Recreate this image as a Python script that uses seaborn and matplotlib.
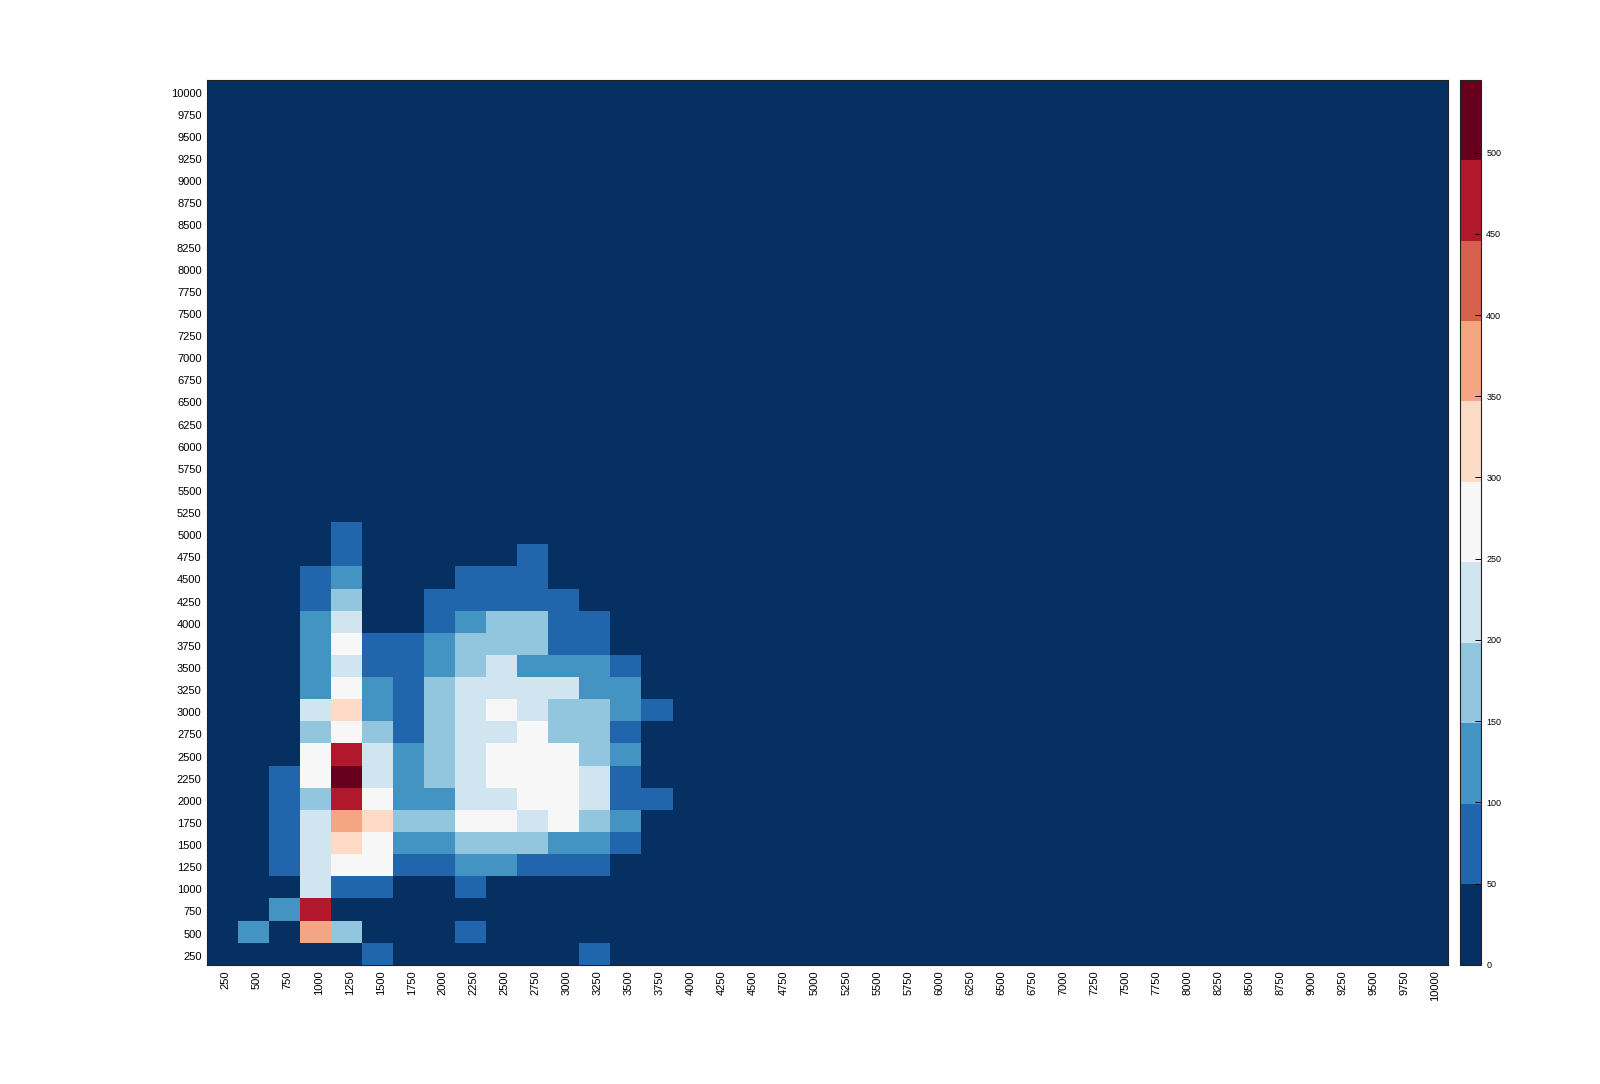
import numpy as np
import pandas as pd
import matplotlib
matplotlib.use("Agg")
import matplotlib.pyplot as plt
import matplotlib.transforms as mtransforms
import seaborn as sns

# Bin labels (both axes)
bins = list(range(250, 10001, 250))

# Counts for the populated lower-left corner: columns 250..3750, rows by y-bin.
# Everything not listed is zero.
rows = {
    5000: [0, 0, 0, 0, 75, 0, 0, 0, 0, 0, 0, 0, 0, 0, 0],
    4750: [0, 0, 0, 0, 75, 0, 0, 0, 0, 0, 75, 0, 0, 0, 0],
    4500: [0, 0, 0, 75, 125, 0, 0, 0, 75, 75, 75, 0, 0, 0, 0],
    4250: [0, 0, 0, 75, 170, 0, 0, 75, 75, 75, 75, 75, 0, 0, 0],
    4000: [0, 0, 0, 125, 220, 0, 0, 75, 125, 170, 170, 75, 75, 0, 0],
    3750: [0, 0, 0, 125, 270, 75, 75, 125, 170, 170, 170, 75, 75, 0, 0],
    3500: [0, 0, 0, 125, 220, 75, 75, 125, 170, 220, 125, 125, 125, 75, 0],
    3250: [0, 0, 0, 125, 270, 125, 75, 170, 220, 220, 220, 220, 125, 125, 0],
    3000: [0, 0, 0, 220, 320, 125, 75, 170, 220, 270, 220, 170, 170, 125, 75],
    2750: [0, 0, 0, 170, 270, 170, 75, 170, 220, 220, 270, 170, 170, 75, 0],
    2500: [0, 0, 0, 270, 470, 220, 125, 170, 220, 270, 270, 270, 170, 125, 0],
    2250: [0, 0, 75, 270, 545, 220, 125, 170, 220, 270, 270, 270, 220, 75, 0],
    2000: [0, 0, 75, 170, 470, 270, 125, 125, 220, 220, 270, 270, 220, 75, 75],
    1750: [0, 0, 75, 220, 370, 320, 170, 170, 270, 270, 220, 270, 170, 125, 0],
    1500: [0, 0, 75, 220, 320, 270, 125, 125, 170, 170, 170, 125, 125, 75, 0],
    1250: [0, 0, 75, 220, 270, 270, 75, 75, 125, 125, 75, 75, 75, 0, 0],
    1000: [0, 0, 0, 220, 75, 75, 0, 0, 75, 0, 0, 0, 0, 0, 0],
    750:  [0, 0, 125, 470, 0, 0, 0, 0, 0, 0, 0, 0, 0, 0, 0],
    500:  [0, 125, 0, 370, 170, 0, 0, 0, 75, 0, 0, 0, 0, 0, 0],
    250:  [0, 0, 0, 0, 0, 75, 0, 0, 0, 0, 0, 0, 75, 0, 0],
}
vmax = 545

grid = np.zeros((len(bins), len(bins)))
for y, vals in rows.items():
    grid[bins.index(y), :len(vals)] = vals

# highest y-bin on top
df = pd.DataFrame(grid[::-1], index=bins[::-1], columns=bins)

fig = plt.figure(figsize=(16, 10.84), dpi=100)
ax = fig.add_axes([0.1295, 0.110, 0.7755, 0.8166])
cax = fig.add_axes([0.9126, 0.110, 0.0128, 0.8166])

cmap = plt.get_cmap("RdBu_r", 11)
sns.heatmap(df, ax=ax, cbar_ax=cax, cmap=cmap, vmin=0, vmax=vmax,
            xticklabels=True, yticklabels=True)

font = ["Liberation Sans", "DejaVu Sans"]
ax.tick_params(length=0, pad=4)
ax.set_xticklabels(bins, rotation=90, fontsize=8, family=font)
ax.set_yticklabels(bins[::-1], rotation=0, fontsize=8, family=font)

# labels sit a touch right / below the cell centres in the original
shift_x = mtransforms.ScaledTranslation(3 / 100, 0, fig.dpi_scale_trans)
shift_y = mtransforms.ScaledTranslation(0, -3 / 100, fig.dpi_scale_trans)
for t in ax.get_xticklabels():
    t.set_transform(t.get_transform() + shift_x)
for t in ax.get_yticklabels():
    t.set_transform(t.get_transform() + shift_y)

for s in ax.spines.values():
    s.set_visible(True)
    s.set_linewidth(0.8)
    s.set_color("#222222")

cbar = ax.collections[0].colorbar
cbar.set_ticks(range(0, 501, 50))
cbar.ax.tick_params(direction="in", length=4, width=0.7, pad=4, labelsize=6.5)
for t in cbar.ax.get_yticklabels():
    t.set_family(font)
cbar.outline.set_visible(True)
cbar.outline.set_linewidth(0.8)
cbar.outline.set_edgecolor("#222222")

plt.savefig("out.png", dpi=100, facecolor="white")
